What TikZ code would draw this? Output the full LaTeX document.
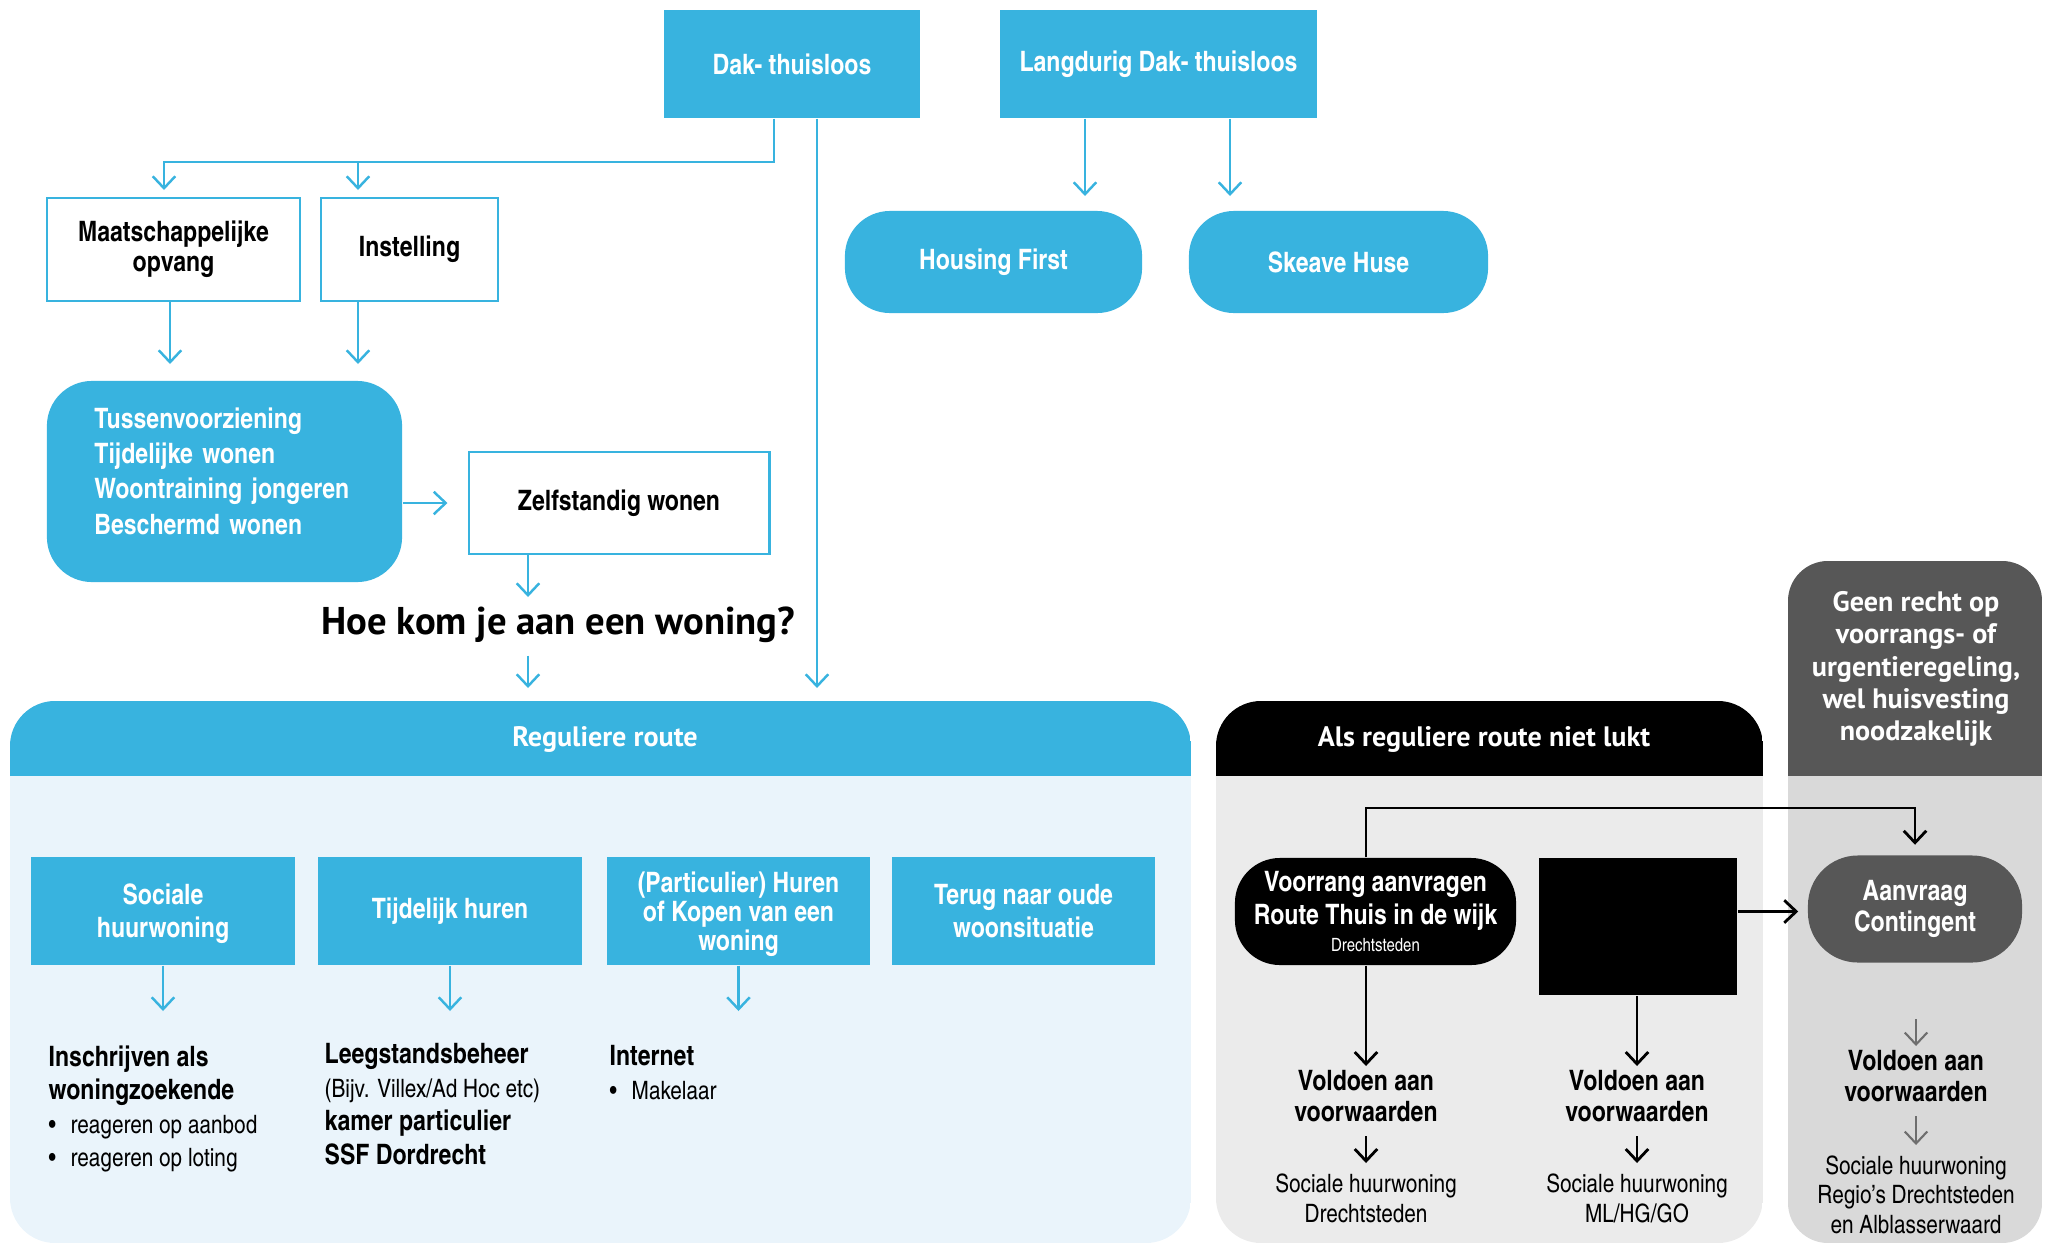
\documentclass[tikz,border=0pt]{standalone}
\usepackage{fontspec}
\setmainfont{texgyreheroscn}[Extension=.otf,UprightFont=*-regular,BoldFont=*-bold,ItalicFont=*-italic,BoldItalicFont=*-bolditalic]
\newfontfamily\kopfont{PT Sans}
\usepackage{tikz}
\usetikzlibrary{arrows.meta,positioning}
\definecolor{RouteBlue}{HTML}{38B3DF}
\definecolor{RouteBG}  {HTML}{EAF4FB}
\definecolor{NietBG}   {HTML}{EBEBEB}
\definecolor{GeenHead} {HTML}{575757}
\definecolor{GeenBG}   {HTML}{D9D9D9}
\definecolor{GeenPijl} {HTML}{6E6E6E}
\newcommand\kleintekst{\fontsize{7.2}{9.5}\selectfont}
\newcommand\bol{\makebox[0.22cm][l]{\textbullet}}

\begin{document}
\begin{tikzpicture}[x=0.01cm,y=-0.01cm,
    bluebox/.style={fill=RouteBlue,text=white,inner sep=0pt,align=center,
      font=\bfseries\fontsize{8}{9.4}\selectfont},
    linebox/.style={draw=RouteBlue,line width=0.8pt,fill=white,inner sep=0pt,
      align=center,font=\bfseries\fontsize{8}{8.4}\selectfont},
    pill/.style={bluebox,rounded corners=0.45cm},
    kop/.style={text=white,align=center,inner sep=0pt,
      font=\kopfont\bfseries\fontsize{8}{9.2}\selectfont},
    blauwpijl/.style={draw=RouteBlue,line width=0.7pt,-{Straight Barb[length=3.4pt,width=6.4pt]}},
    zwartpijl/.style={draw=black,line width=0.8pt,-{Straight Barb[length=3.4pt,width=6.4pt]}},
    grijspijl/.style={draw=GeenPijl,line width=0.6pt,-{Straight Barb[length=3.4pt,width=6.4pt]}},
    lijst/.style={anchor=north west,inner sep=0pt,align=left,font=\fontsize{8}{9.5}\selectfont},
    voldoen/.style={anchor=north,inner ysep=0.04cm,inner xsep=0pt,align=center,
      font=\bfseries\fontsize{8}{8.6}\selectfont},
    eind/.style={anchor=north,inner ysep=0.1cm,inner xsep=0pt,align=center,
      font=\fontsize{7.2}{8.7}\selectfont}]
  \useasboundingbox (0,0) rectangle (2054,1245);

  % panels
  \begin{scope}
    \clip[rounded corners=0.45cm] (10,701) rectangle (1191,1243);
    \fill[RouteBG] (10,701) rectangle (1191,1243);
    \fill[RouteBlue] (10,701) rectangle (1191,776);
  \end{scope}
  \begin{scope}
    \clip[rounded corners=0.45cm] (1216,701) rectangle (1763,1243);
    \fill[NietBG] (1216,701) rectangle (1763,1243);
    \fill[black] (1216,701) rectangle (1763,776);
  \end{scope}
  \begin{scope}
    \clip[rounded corners=0.4cm] (1788,561) rectangle (2042,1243);
    \fill[GeenBG] (1788,561) rectangle (2042,1243);
    \fill[GeenHead] (1788,561) rectangle (2042,776);
  \end{scope}
  \node[kop] (reghead) at (605,739) {Reguliere route};
  \node[kop] (nietkop) at (1484,739) {Als reguliere route niet lukt};
  \node[kop] (geenkop) at (1916,669) {Geen recht op\\voorrangs- of\\urgentieregeling,\\wel huisvesting\\noodzakelijk};

  % top
  \node[bluebox,minimum width=2.56cm,minimum height=1.08cm] (dak) at (792,64) {Dak- thuisloos};
  \node[bluebox,minimum width=3.17cm,minimum height=1.08cm] (langdak) at (1158.5,64) {Langdurig Dak- thuisloos};
  \node[pill,minimum width=2.97cm,minimum height=1.02cm] (housing) at (993.5,262) {Housing First};
  \node[pill,minimum width=2.99cm,minimum height=1.02cm] (skeave) at (1338.5,262) {Skeave Huse};
  \node[linebox,minimum width=2.53cm,minimum height=1.03cm] (maatopv) at (173.5,249.5) {Maatschappelijke\\opvang};
  \node[linebox,minimum width=1.77cm,minimum height=1.03cm] (instel) at (409.5,249.5) {Instelling};
  \node[pill,minimum width=3.55cm,minimum height=2.01cm,align=left,text width=2.6cm,text height=0pt,
        font=\bfseries\fontsize{8}{10}\selectfont] (tussen) at (224.5,481.5)
    {Tussenvoorziening\\Tijdelijke wonen\\Woontraining jongeren\\Beschermd wonen};
  \node[linebox,minimum width=3.00cm,minimum height=1.02cm] (zelfst) at (619,503) {Zelfstandig wonen};
  \node[font=\kopfont\bfseries\fontsize{11}{12}\selectfont,minimum height=0.6cm,inner sep=0pt] (hoe) at (558,625) {Hoe kom je aan een woning?};

  \coordinate (splits) at (774,162);
  \coordinate (tmaat) at (164,190);
  \coordinate (tinst) at (358,190);
  \draw[blauwpijl] (dak.south -| splits) -- (splits) -| (tmaat);
  \draw[blauwpijl] (splits -| tinst) -- (tinst);
  \coordinate (ttus1) at (170,364);
  \coordinate (ttus2) at (358,364);
  \draw[blauwpijl] (maatopv.south -| ttus1) -- (ttus1);
  \draw[blauwpijl] (instel.south -| ttus2) -- (ttus2);
  \draw[blauwpijl,shorten >=0.2cm] (tussen.east |- zelfst.west) -- (zelfst.west);
  \coordinate (tzelf) at (528,597);
  \draw[blauwpijl] (zelfst.south -| tzelf) -- (tzelf);
  \coordinate (treg) at (528,688);
  \draw[blauwpijl] (hoe.south -| treg) -- (treg);
  \coordinate (tdak) at (817,688);
  \draw[blauwpijl] (dak.south -| tdak) -- (tdak);
  \coordinate (thf) at (1085,196);
  \coordinate (tsh) at (1230,196);
  \draw[blauwpijl] (langdak.south -| thf) -- (thf);
  \draw[blauwpijl] (langdak.south -| tsh) -- (tsh);

  % reguliere route
  \node[bluebox,minimum width=2.64cm,minimum height=1.08cm,text depth=0pt] (sociaal) at (163,911) {Sociale\\huurwoning};
  \node[bluebox,minimum width=2.64cm,minimum height=1.08cm] (tijdelijk) at (450,911) {Tijdelijk huren};
  \node[bluebox,minimum width=2.63cm,minimum height=1.08cm,text depth=0pt,font=\bfseries\fontsize{8}{8.2}\selectfont] (particulier) at (738.5,911) {(Particulier) Huren\\of Kopen van een\\woning};
  \node[bluebox,minimum width=2.63cm,minimum height=1.08cm] (terug) at (1023.5,911) {Terug naar oude\\woonsituatie};
  \coordinate (lijstkop) at (0,1011);
  \draw[blauwpijl] (sociaal.south) -- (sociaal.south |- lijstkop);
  \draw[blauwpijl] (tijdelijk.south) -- (tijdelijk.south |- lijstkop);
  \draw[blauwpijl] (particulier.south) -- (particulier.south |- lijstkop);
  \node[lijst] (sociaaltxt) at (48,1045) {\textbf{Inschrijven als}\\\textbf{woningzoekende}\\{\kleintekst\bol reageren op aanbod}\\{\kleintekst\bol reageren op loting}};
  \node[lijst] (tijdtxt) at (324,1043) {\textbf{Leegstandsbeheer}\\{\kleintekst (Bijv. Villex/Ad Hoc etc)}\\\textbf{kamer particulier}\\\textbf{SSF Dordrecht}};
  \node[lijst] (internettxt) at (609,1045) {\textbf{Internet}\\{\kleintekst\bol Makelaar}};

  % als reguliere route niet lukt
  \node[fill=black,text=white,rounded corners=0.45cm,minimum width=2.81cm,minimum height=1.07cm,
        inner sep=0pt,align=center,font=\bfseries\fontsize{8}{9.4}\selectfont] (voorrang) at (1375.5,911.5)
    {Voorrang aanvragen\\Route Thuis in de wijk\\[-2pt]{\mdseries\fontsize{5.2}{6}\selectfont Drechtsteden}};
  \node[fill=black,minimum width=1.98cm,minimum height=1.37cm,inner sep=0pt] (zwart) at (1638,926.5) {};
  \node[fill=GeenHead,text=white,rounded corners=0.5cm,minimum width=2.14cm,minimum height=1.07cm,
        inner sep=0pt,align=center,font=\bfseries\fontsize{8}{8.8}\selectfont] (aanvraag) at (1915,909) {Aanvraag\\Contingent};
  \coordinate (bocht) at (1366,808);
  \draw[zwartpijl,shorten >=0.1cm] (voorrang.north -| bocht) -- (bocht) -| (aanvraag.north);
  \draw[zwartpijl,shorten >=0.09cm] (zwart.east |- voorrang.east) -- (aanvraag.west |- voorrang.east);

  \node[voldoen] (voldoenA) at (1366,1066) {Voldoen aan\\voorwaarden};
  \node[voldoen] (voldoenB) at (1637,1066) {Voldoen aan\\voorwaarden};
  \node[voldoen] (voldoenC) at (1916,1046) {Voldoen aan\\voorwaarden};
  \node[eind] (woningA) at (1366,1163) {Sociale huurwoning\\Drechtsteden};
  \node[eind] (woningB) at (1637,1163) {Sociale huurwoning\\ML/HG/GO};
  \node[eind,font=\fontsize{7.2}{8.4}\selectfont] (woningC) at (1916,1145) {Sociale huurwoning\\Regio's Drechtsteden\\en Alblasserwaard};
  \draw[zwartpijl] (voorrang.south -| voldoenA) -- (voldoenA.north);
  \draw[zwartpijl] (zwart.south -| voldoenB) -- (voldoenB.north);
  \draw[zwartpijl,shorten <=0.1cm] (voldoenA.south) -- (woningA.north);
  \draw[zwartpijl,shorten <=0.1cm] (voldoenB.south) -- (woningB.north);
  \coordinate (grijsstart) at (1916,1019);
  \draw[grijspijl] (grijsstart) -- (voldoenC.north);
  \draw[grijspijl,shorten <=0.1cm] (voldoenC.south) -- (woningC.north);
\end{tikzpicture}
\end{document}
